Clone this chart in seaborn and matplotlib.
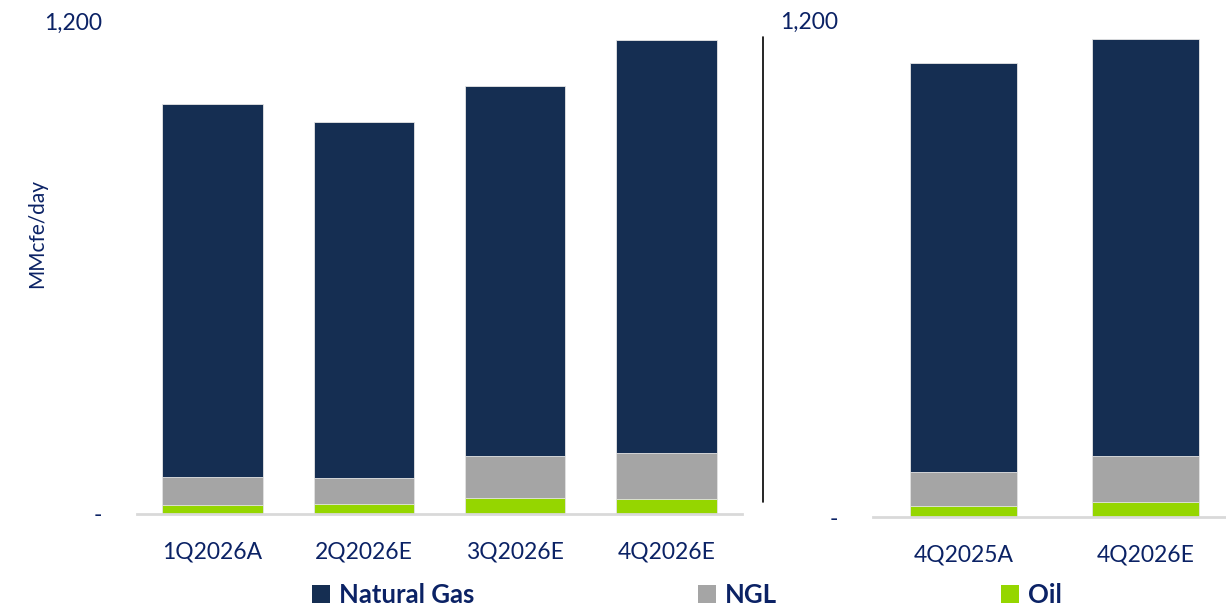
import matplotlib
matplotlib.use("Agg")
import matplotlib.pyplot as plt
from matplotlib.lines import Line2D
from matplotlib.patches import Patch
import seaborn as sns
import pandas as pd
import numpy as np

# Production mix, MMcfe/day
quarters_left = ["1Q2026A", "2Q2026E", "3Q2026E", "4Q2026E"]
gas_left = [907, 867, 901, 1006]
ngl_left = [69, 64, 101, 111]
oil_left = [21, 24, 40, 37]

quarters_right = ["4Q2025A", "4Q2026E"]
gas_right = [986, 1006]
ngl_right = [82, 111]
oil_right = [27, 37]

series_names = ["Natural Gas", "NGL", "Oil"]
y_ticks = [0, 1200]
y_tick_labels = ["-", "1,200"]

NAVY = "#152E52"
GRAY = "#A5A5A5"
GREEN = "#95D600"
TEXT = "#0B2265"
colors = [NAVY, GRAY, GREEN]

sns.set_theme(style="white")
plt.rcParams["font.family"] = ["Lato", "DejaVu Sans"]

fig = plt.figure(figsize=(12.26, 6.07), dpi=100)
W, H = 1226, 607


def fig_rect(x0, x1, y_top, y_bottom):
    return [x0 / W, 1 - y_bottom / H, (x1 - x0) / W, (y_bottom - y_top) / H]


def stacked(ax, cats, gas, ngl, oil, width):
    df = pd.DataFrame({"q": cats, "gas": gas, "ngl": ngl, "oil": oil})
    df["total"] = df["gas"] + df["ngl"] + df["oil"]
    df["ngl_oil"] = df["ngl"] + df["oil"]
    # layer cumulative totals from back to front
    for col, c in zip(["total", "ngl_oil", "oil"], colors):
        sns.barplot(data=df, x="q", y=col, color=c, width=width, ax=ax,
                    saturation=1, edgecolor="#E6E6E6", linewidth=0.6,
                    order=cats, errorbar=None)
    ax.set_ylim(0, 1200)
    ax.set_yticks(y_ticks)
    ax.set_yticklabels(y_tick_labels)
    ax.set_xlabel("")
    ax.set_ylabel("")
    for s in ["top", "right", "left"]:
        ax.spines[s].set_visible(False)
    ax.spines["bottom"].set_color("#D9D9D9")
    ax.spines["bottom"].set_linewidth(2)
    ax.tick_params(axis="y", length=0, pad=25, labelsize=16.5, labelcolor=TEXT)
    ax.tick_params(axis="x", length=0, pad=20, labelsize=16.5, labelcolor=TEXT)
    ax.set_facecolor("none")


ax1 = fig.add_axes(fig_rect(137, 742, 21, 514))
stacked(ax1, quarters_left, gas_left, ngl_left, oil_left, 0.665)
ax1.set_xlim(-0.5, 3.5)

ax2 = fig.add_axes(fig_rect(873, 1226, 20, 517))
stacked(ax2, quarters_right, gas_right, ngl_right, oil_right, 0.588)
ax2.set_xlim(-0.5, 1.44)

# divider between the two panels
fig.add_artist(Line2D([763 / W, 763 / W], [1 - 37 / H, 1 - 502 / H],
                      transform=fig.transFigure, color="black", lw=1.2))

fig.text(37 / W, 1 - 233 / H, "MMcfe/day", rotation=90, ha="center",
         va="center", fontsize=15, color=TEXT)

handles = [Patch(facecolor=c, edgecolor="none") for c in colors]
leg = fig.legend(handles, series_names, loc="center left",
                 bbox_to_anchor=(289 / W, 1 - 595 / H), ncol=3, frameon=False,
                 handlelength=0.7, handleheight=0.7, handletextpad=0.35,
                 columnspacing=8.7, prop={"weight": "bold", "size": 18.5})
for t in leg.get_texts():
    t.set_color(TEXT)

fig.savefig("out.png", dpi=100, facecolor="white")
